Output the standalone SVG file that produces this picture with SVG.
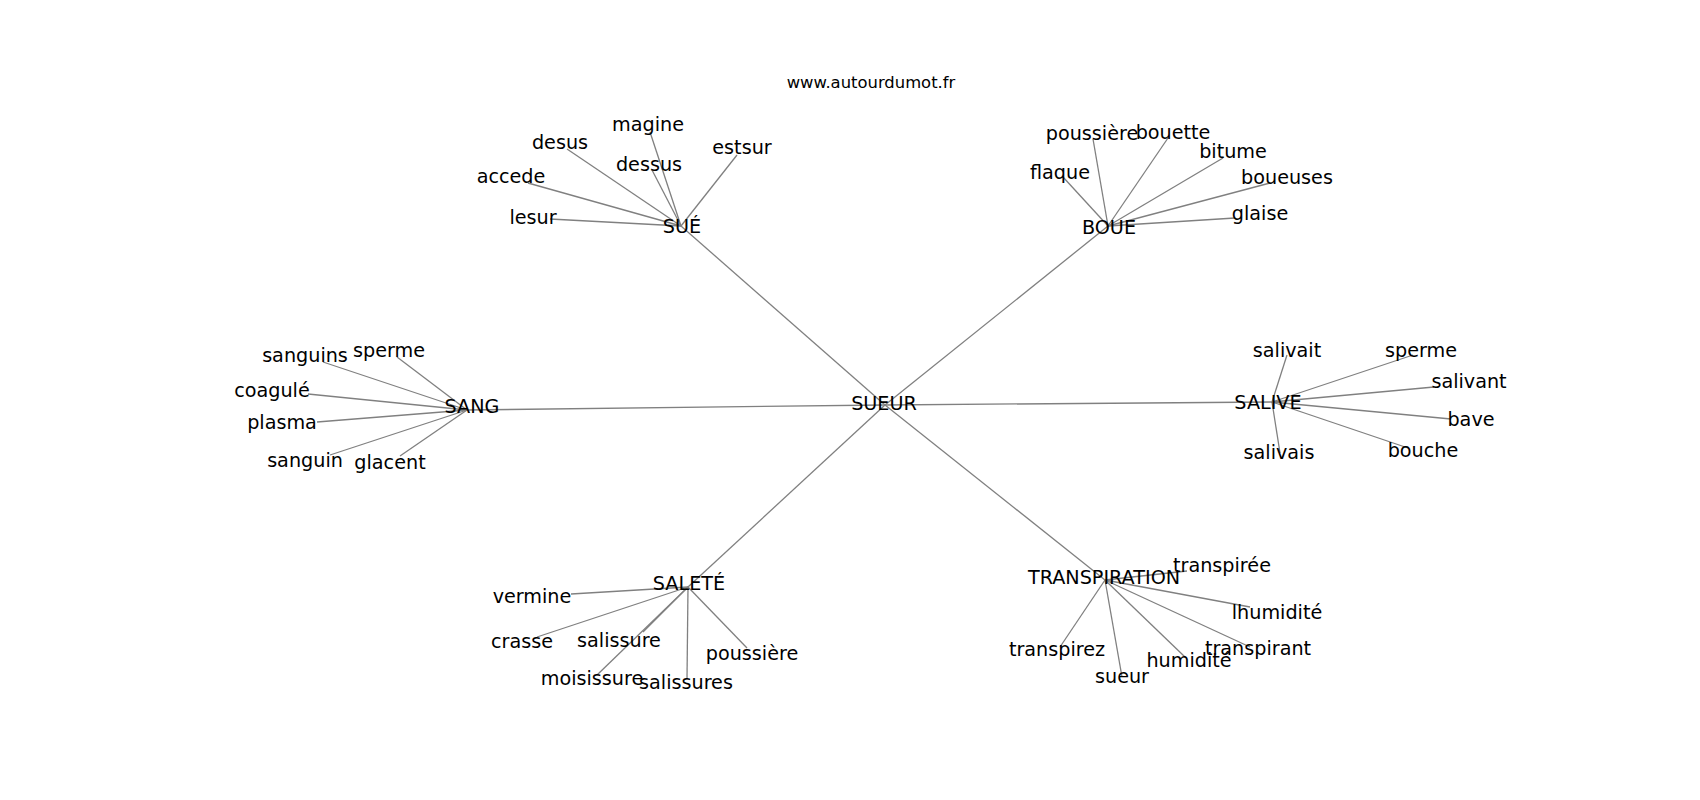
<svg xmlns="http://www.w3.org/2000/svg" width="1700" height="800" viewBox="0 0 1700 800">
<style>
.e line{stroke:#808080;stroke-width:1.3;fill:none}
text{font-family:"DejaVu Sans",sans-serif;font-size:19.2px;fill:#000;text-anchor:middle}
.t{font-size:16.4px}
</style>
<rect width="1700" height="800" fill="#fff"/>
<g class="e" id="edges">
<line x1="885" y1="405" x2="681" y2="226"/>
<line x1="885" y1="405" x2="1108" y2="226"/>
<line x1="885" y1="405" x2="467" y2="410"/>
<line x1="885" y1="405" x2="1272" y2="402"/>
<line x1="885" y1="405" x2="688" y2="587"/>
<line x1="885" y1="405" x2="1105" y2="580"/>
<line x1="681" y1="226" x2="650" y2="132"/>
<line x1="681" y1="226" x2="567" y2="149"/>
<line x1="681" y1="226" x2="652" y2="170"/>
<line x1="681" y1="226" x2="737" y2="155"/>
<line x1="681" y1="226" x2="528" y2="183"/>
<line x1="681" y1="226" x2="550" y2="219"/>
<line x1="1108" y1="226" x2="1093" y2="139"/>
<line x1="1108" y1="226" x2="1168" y2="138"/>
<line x1="1108" y1="226" x2="1223" y2="158"/>
<line x1="1108" y1="226" x2="1270" y2="183"/>
<line x1="1108" y1="226" x2="1063" y2="177"/>
<line x1="1108" y1="226" x2="1235" y2="218"/>
<line x1="467" y1="410" x2="323" y2="362"/>
<line x1="467" y1="410" x2="397" y2="357"/>
<line x1="467" y1="410" x2="308" y2="394"/>
<line x1="467" y1="410" x2="317" y2="422"/>
<line x1="467" y1="410" x2="330" y2="455"/>
<line x1="467" y1="410" x2="400" y2="456"/>
<line x1="1272" y1="402" x2="1287" y2="355"/>
<line x1="1272" y1="402" x2="1413" y2="355"/>
<line x1="1272" y1="402" x2="1434" y2="387"/>
<line x1="1272" y1="402" x2="1451" y2="419"/>
<line x1="1272" y1="402" x2="1408" y2="448"/>
<line x1="1272" y1="402" x2="1280" y2="453"/>
<line x1="688" y1="587" x2="571" y2="594"/>
<line x1="688" y1="587" x2="537" y2="637"/>
<line x1="688" y1="587" x2="643" y2="632"/>
<line x1="688" y1="587" x2="747" y2="648"/>
<line x1="688" y1="587" x2="597" y2="675"/>
<line x1="688" y1="587" x2="687" y2="679"/>
<line x1="1105" y1="580" x2="1187" y2="571"/>
<line x1="1105" y1="580" x2="1250" y2="607"/>
<line x1="1105" y1="580" x2="1250" y2="647"/>
<line x1="1105" y1="580" x2="1185" y2="657"/>
<line x1="1105" y1="580" x2="1122" y2="677"/>
<line x1="1105" y1="580" x2="1060" y2="647"/>
</g>
<text class="t" x="871" y="88">www.autourdumot.fr</text>
<g id="n-sueur"><text x="884" y="410">SUEUR</text></g>
<g id="n-sue"><text x="682" y="233">SUÉ</text></g>
<g id="n-sue-magine"><text x="648" y="131">magine</text></g>
<g id="n-sue-desus"><text x="560" y="149">desus</text></g>
<g id="n-sue-dessus"><text x="649" y="171">dessus</text></g>
<g id="n-sue-estsur"><text x="742" y="154">estsur</text></g>
<g id="n-sue-accede"><text x="511" y="183">accede</text></g>
<g id="n-sue-lesur"><text x="533" y="224">lesur</text></g>
<g id="n-boue"><text x="1109" y="234">BOUE</text></g>
<g id="n-boue-poussiere"><text x="1092" y="140">poussière</text></g>
<g id="n-boue-bouette"><text x="1173" y="139">bouette</text></g>
<g id="n-boue-bitume"><text x="1233" y="158">bitume</text></g>
<g id="n-boue-boueuses"><text x="1287" y="184">boueuses</text></g>
<g id="n-boue-flaque"><text x="1060" y="179">flaque</text></g>
<g id="n-boue-glaise"><text x="1260" y="220">glaise</text></g>
<g id="n-sang"><text x="472" y="413">SANG</text></g>
<g id="n-sang-sanguins"><text x="305" y="362">sanguins</text></g>
<g id="n-sang-sperme"><text x="389" y="357">sperme</text></g>
<g id="n-sang-coagule"><text x="272" y="397">coagulé</text></g>
<g id="n-sang-plasma"><text x="282" y="429">plasma</text></g>
<g id="n-sang-sanguin"><text x="305" y="467">sanguin</text></g>
<g id="n-sang-glacent"><text x="390" y="469">glacent</text></g>
<g id="n-salive"><text x="1268" y="409">SALIVE</text></g>
<g id="n-salive-salivait"><text x="1287" y="357">salivait</text></g>
<g id="n-salive-sperme"><text x="1421" y="357">sperme</text></g>
<g id="n-salive-salivant"><text x="1469" y="388">salivant</text></g>
<g id="n-salive-bave"><text x="1471" y="426">bave</text></g>
<g id="n-salive-bouche"><text x="1423" y="457">bouche</text></g>
<g id="n-salive-salivais"><text x="1279" y="459">salivais</text></g>
<g id="n-salete"><text x="689" y="590">SALETÉ</text></g>
<g id="n-salete-vermine"><text x="532" y="603">vermine</text></g>
<g id="n-salete-crasse"><text x="522" y="648">crasse</text></g>
<g id="n-salete-salissure"><text x="619" y="647">salissure</text></g>
<g id="n-salete-poussiere"><text x="752" y="660">poussière</text></g>
<g id="n-salete-moisissure"><text x="592" y="685">moisissure</text></g>
<g id="n-salete-salissures"><text x="686" y="689">salissures</text></g>
<g id="n-transpiration"><text x="1104" y="584">TRANSPIRATION</text></g>
<g id="n-tr-transpiree"><text x="1222" y="572">transpirée</text></g>
<g id="n-tr-lhumidite"><text x="1277" y="619">lhumidité</text></g>
<g id="n-tr-transpirant"><text x="1258" y="655">transpirant</text></g>
<g id="n-tr-humidite"><text x="1189" y="667">humidité</text></g>
<g id="n-tr-sueur"><text x="1122" y="683">sueur</text></g>
<g id="n-tr-transpirez"><text x="1057" y="656">transpirez</text></g>
</svg>
